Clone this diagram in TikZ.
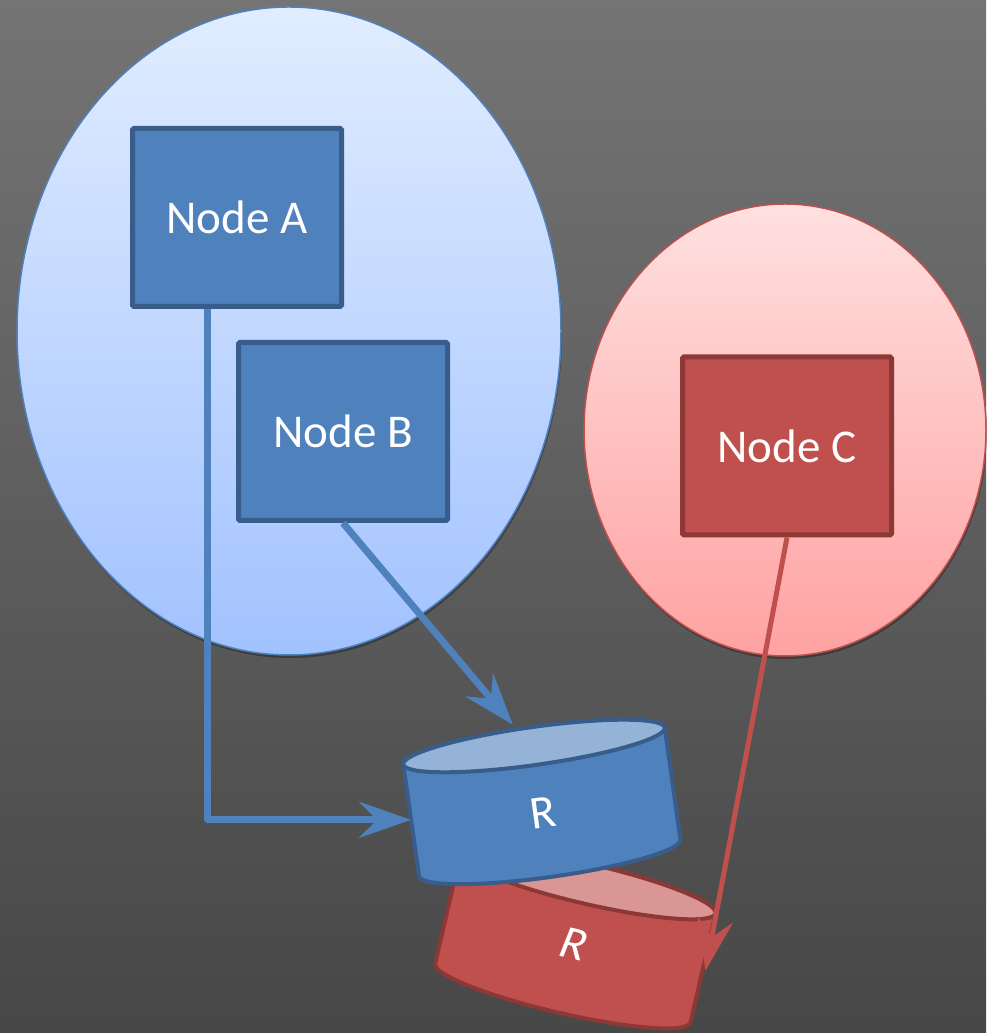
\documentclass[tikz,border=0pt]{standalone}
\usepackage{fontspec}
\setmainfont{Carlito}
\usetikzlibrary{arrows.meta,calc,shadows,shapes.geometric}
\definecolor{bgtop}{HTML}{747474}
\definecolor{bgbot}{HTML}{474747}
\definecolor{ellAtop}{HTML}{E1EDFF}
\definecolor{ellAbot}{HTML}{A2C2FF}
\definecolor{blueA}{HTML}{4F81BD}
\definecolor{blueD}{HTML}{385D8A}
\definecolor{blueL}{HTML}{95B3D7}
\definecolor{ellCtop}{HTML}{FFE0E0}
\definecolor{ellCbot}{HTML}{FFA2A2}
\definecolor{redA}{HTML}{C0504D}
\definecolor{redD}{HTML}{8C3836}
\definecolor{redL}{HTML}{D99694}
\begin{document}
\begin{tikzpicture}[x=1pt,y=1pt,
  labelfont/.style={text=white, font=\fontsize{47}{56}\selectfont},
  box/.style={draw, line width=5pt, rounded corners=1.5pt, minimum width=209pt,
    minimum height=178pt, inner sep=0pt, labelfont},
  bluebox/.style={box, fill=blueA, draw=blueD},
  redbox/.style={box, fill=redA, draw=redD},
  group/.style={ellipse, inner sep=0pt, line width=1.5pt,
    drop shadow={shadow xshift=1pt, shadow yshift=-3pt, opacity=0.3, fill=black}},
  bluegroup/.style={group, draw=blueA, top color=ellAtop, bottom color=ellAbot},
  redgroup/.style={group, draw=redA, top color=ellCtop, bottom color=ellCbot},
  cylbody/.style={line width=4pt, line join=round},
  bluearrow/.style={draw=blueA, line width=7pt, line join=round,
    -{Stealth[length=52pt, width=36pt, inset=18pt, fill=blueA]}},
  redarrow/.style={draw=redA, line width=5pt,
    -{Stealth[length=52pt, width=36pt, inset=18pt, fill=redA]}}
]
\useasboundingbox (0,0) rectangle (986,1033);
\shade[top color=bgtop, bottom color=bgbot] (0,0) rectangle (986,1033);

% groups
\node[bluegroup, minimum width=544pt, minimum height=648pt] (GA) at (289,702) {};
\node[redgroup, minimum width=402pt, minimum height=452pt] (GC) at (785,603) {};

% nodes
\node[bluebox] (A) at (237,815.5) {Node A};
\node[bluebox] (B) at (343,601.5) {Node B};
\node[redbox] (C) at (787,587) {Node C};

% red cylinder
\begin{scope}[shift={(588,149)}, rotate=-13]
  \filldraw[cylbody, fill=redA, draw=redD] (-131,0) -- (-131,-112)
    arc[start angle=180, end angle=360, x radius=131pt, y radius=20pt] -- (131,0)
    arc[start angle=0, end angle=180, x radius=131pt, y radius=20pt] -- cycle;
  \filldraw[cylbody, fill=redL, draw=redD] (0,0) ellipse [x radius=131pt, y radius=20pt];
  \node[labelfont, transform shape, xslant=0.15] (R2) at (0,-62) {R};
  \coordinate (R2e) at (134,-58);
\end{scope}

% blue cylinder
\begin{scope}[shift={(534,287)}, rotate=8]
  \filldraw[cylbody, fill=blueA, draw=blueD] (-132,0) -- (-132,-113)
    arc[start angle=180, end angle=360, x radius=132pt, y radius=19pt] -- (132,0)
    arc[start angle=0, end angle=180, x radius=132pt, y radius=19pt] -- cycle;
  \filldraw[cylbody, fill=blueL, draw=blueD] (0,0) ellipse [x radius=132pt, y radius=19pt];
  \node[labelfont, transform shape] (R1) at (0,-67) {R};
  \coordinate (R1w) at (-132,-56);
  \coordinate (R1n) at (-18,24);
\end{scope}

% connectors
\coordinate (Aout) at ($(A.south west)!0.364!(A.south east)$);
\draw[bluearrow] (Aout) |- (R1w);
\draw[bluearrow] (B.south) -- (R1n);
\draw[redarrow] (C.south) -- (R2e);
\end{tikzpicture}
\end{document}
